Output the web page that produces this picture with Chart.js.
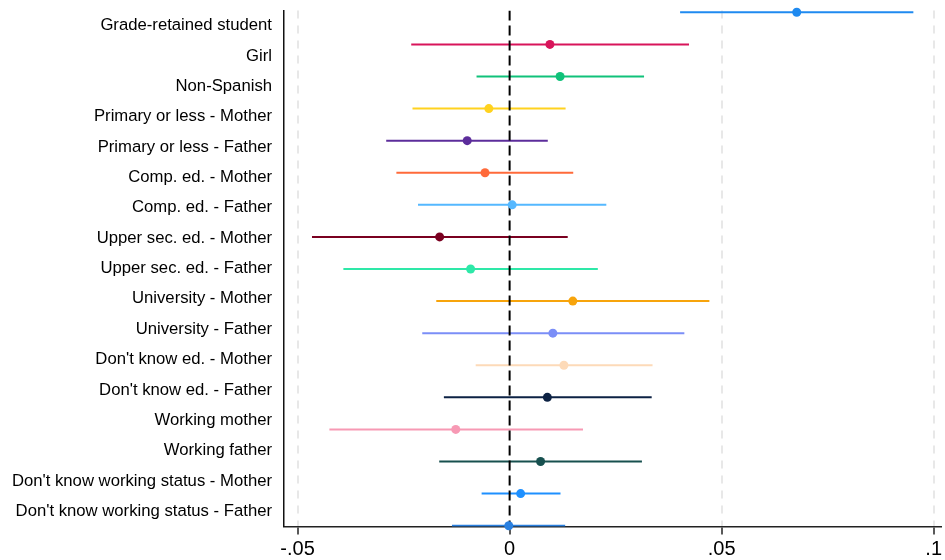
<!DOCTYPE html>
<html>
<head>
<meta charset="utf-8">
<script src="https://cdn.jsdelivr.net/npm/chart.js@4/dist/chart.umd.min.js"></script>
<style>
  html, body { margin: 0; padding: 0; background: #fff; }
  #wrap { width: 945px; height: 560px; }
</style>
</head>
<body>
<div id="wrap"><canvas id="c" width="945" height="560"></canvas></div>
<script>
const categories = [
  "Grade-retained student", "Girl", "Non-Spanish",
  "Primary or less - Mother", "Primary or less - Father",
  "Comp. ed. - Mother", "Comp. ed. - Father",
  "Upper sec. ed. - Mother", "Upper sec. ed. - Father",
  "University - Mother", "University - Father",
  "Don't know ed. - Mother", "Don't know ed. - Father",
  "Working mother", "Working father",
  "Don't know working status - Mother", "Don't know working status - Father"
];
const estimates = [0.0677, 0.0095, 0.0119, -0.0049, -0.0100, -0.0058, 0.0006, -0.0165, -0.0092, 0.0149, 0.0102, 0.0128, 0.0089, -0.0127, 0.0073, 0.0026, -0.0002];
const ciLow    = [0.0402, -0.0232, -0.0078, -0.0229, -0.0291, -0.0267, -0.0216, -0.0466, -0.0392, -0.0173, -0.0206, -0.0080, -0.0155, -0.0425, -0.0166, -0.0066, -0.0136];
const ciHigh   = [0.0952, 0.0423, 0.0317, 0.0132, 0.0090, 0.0150, 0.0228, 0.0137, 0.0208, 0.0471, 0.0412, 0.0337, 0.0335, 0.0173, 0.0312, 0.0120, 0.0131];
const xTicks = [-0.05, 0, 0.05, 0.1];
const xTickLabels = ["-.05", "0", ".05", ".1"];
const colors = ["#1f8af0", "#d8145a", "#10c27a", "#ffd21f", "#5c2d9b", "#ff6a3a", "#55b8ff", "#7a0020", "#2ee8a8", "#f7a40c", "#7b8ef7", "#fddab8", "#0d2244", "#f799b4", "#17504f", "#1e90ff", "#2a80e0"];

const yMin = 0.944, yMax = 17.025;
const FONT = "'Liberation Sans', Arial, sans-serif";

const datasets = [];
categories.forEach((c, i) => {
  datasets.push({
    type: 'line',
    label: c + ' CI',
    data: [{x: ciLow[i], y: i + 1}, {x: ciHigh[i], y: i + 1}],
    borderColor: colors[i],
    borderWidth: 2,
    pointRadius: 0,
    fill: false,
    order: 3,
    yAxisID: 'y'
  });
});
datasets.push({
  type: 'line',
  label: 'zero',
  data: [{x: 0, y: yMin}, {x: 0, y: yMax}],
  borderColor: '#000',
  borderWidth: 2,
  borderDash: [10, 5],
  pointRadius: 0,
  order: 2,
  yAxisID: 'y'
});
datasets.push({
  type: 'scatter',
  label: 'estimates',
  data: estimates.map((v, i) => ({x: v, y: i + 1})),
  backgroundColor: colors,
  pointBackgroundColor: colors,
  pointBorderWidth: 0,
  pointRadius: 4.5,
  clip: false,
  order: 1,
  yAxisID: 'y'
});

new Chart(document.getElementById('c'), {
  type: 'scatter',
  data: { datasets },
  options: {
    responsive: false,
    animation: false,
    events: [],
    layout: { padding: { top: 10.5, right: 0, bottom: 0, left: 0 } },
    plugins: { legend: { display: false }, tooltip: { enabled: false } },
    scales: {
      x: {
        type: 'linear',
        min: -0.0532,
        max: 0.1016,
        afterBuildTicks: s => { s.ticks = xTicks.map(v => ({ value: v })); },
        afterFit: s => { s.height = 33.5; s.paddingLeft = 0; s.paddingRight = 0; },
        grid: {
          color: ctx => (ctx.tick && ctx.tick.value === 0) ? 'rgba(0,0,0,0)' : '#e8e8e8',
          lineWidth: 2,
          drawTicks: true,
          tickLength: 8,
          tickColor: '#222',
          tickWidth: 1.5
        },
        border: { display: true, color: '#222', width: 1.5, dash: [8, 7] },
        ticks: {
          color: '#000',
          font: { family: FONT, size: 20 },
          padding: 3,
          maxRotation: 0,
          autoSkip: false,
          callback: (v) => {
            const k = xTicks.findIndex(t => Math.abs(t - v) < 1e-9);
            return k >= 0 ? xTickLabels[k] : '';
          }
        }
      },
      y: {
        type: 'linear',
        display: false,
        reverse: true,
        min: yMin,
        max: yMax
      },
      yc: {
        type: 'category',
        position: 'left',
        labels: categories,
        offset: true,
        afterFit: s => { s.width = 284; s.paddingTop = 0; s.paddingBottom = 0; },
        grid: { drawOnChartArea: false, drawTicks: false },
        border: { display: true, color: '#111', width: 1.5 },
        ticks: {
          color: '#000',
          font: { family: FONT, size: 16.7 },
          padding: 12,
          autoSkip: false
        }
      }
    }
  }
});
</script>
</body>
</html>
